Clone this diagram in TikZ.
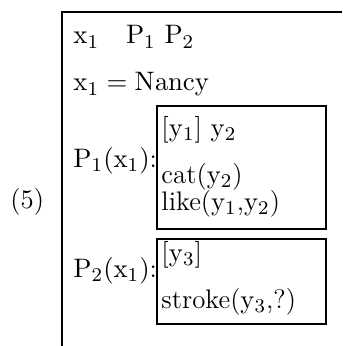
\documentclass[tikz,border=0pt]{standalone}
\usepackage{amsmath}
\usetikzlibrary{positioning}
\newcommand{\rx}[1]{\mathrm{x}_{#1}}
\newcommand{\ry}[1]{\mathrm{y}_{#1}}
\newcommand{\rP}[1]{\mathrm{P}_{#1}}

\begin{document}
\begin{tikzpicture}[x=0.41pt,y=-0.41pt,
    every node/.style={inner sep=0pt, anchor=base west, font=\fontsize{11}{13}\selectfont},
    drsline/.style={line width=0.8pt},
    subdrs/.style={draw, line width=0.8pt, anchor=north west, minimum width=69.3pt}]
  \useasboundingbox (0,0) rectangle (342,346);
  % outer box, open at right and bottom
  \coordinate (corner) at (62,12);
  \coordinate (topend) at (342,12);
  \coordinate (leftend) at (62,346);
  \draw[drsline] (topend) -- (corner) -- (leftend);
  \node (num) at (10,208) {(5)};
  % universe and conditions
  \node (univ) at (73,44) {$\rx1\quad\rP1\ \rP2$};
  \node (nancy) at (73,91) {$\rx1 = \mathrm{Nancy}$};
  % first sub-box
  \node (lab1) at (73,167) {$\rP1(\rx1)$:};
  \node (box1) [subdrs, minimum height=50.4pt] at (156,105) {};
  \node (u1) at (161,136) {$[\ry1]\ \ry2$};
  \node (c1) at (161,183) {cat($\ry2$)};
  \node (c2) at (161,210) {like($\ry1$,$\ry2$)};
  % second sub-box
  \node (lab2) at (73,277) {$\rP2(\rx1)$:};
  \node (box2) [subdrs, minimum height=34.9pt] at (156,238) {};
  \node (u2) at (161,261) {$[\ry3]$};
  \node (c3) at (161,308) {stroke($\ry3$,?)};
\end{tikzpicture}
\end{document}
